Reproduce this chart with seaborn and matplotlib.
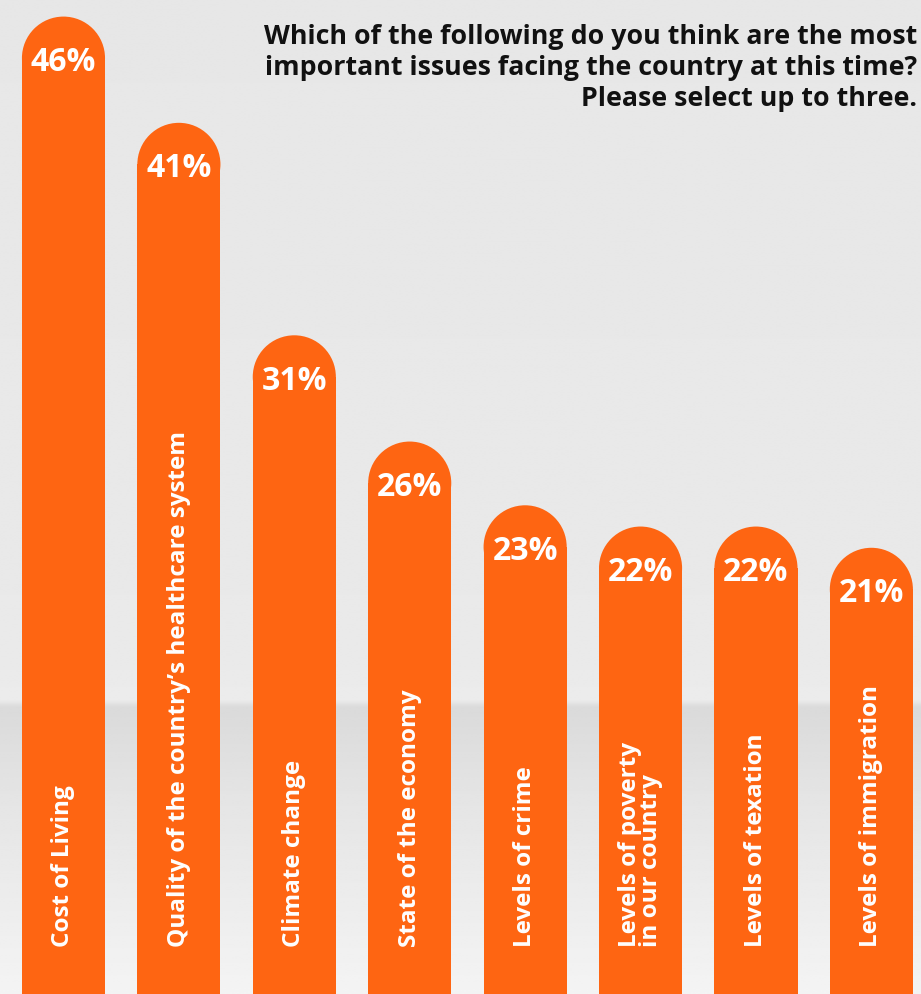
import numpy as np
import pandas as pd
import matplotlib
matplotlib.use("Agg")
import matplotlib.pyplot as plt
from matplotlib.patches import Rectangle, Ellipse
import seaborn as sns

# Survey results: share of respondents choosing each issue
issues = [
    "Cost of Living",
    "Quality of the country\u2019s healthcare system",
    "Climate change",
    "State of the economy",
    "Levels of crime",
    "Levels of poverty\nin our country",
    "Levels of texation",
    "Levels of immigration",
]
shares = [46, 41, 31, 26, 23, 22, 22, 21]
value_labels = [f"{v}%" for v in shares]

title_text = ("Which of the following do you think are the most\n"
              "important issues facing the country at this time?\n"
              "Please select up to three.")

df = pd.DataFrame({"issue": issues, "share": shares})

sns.set_theme(style="white")
plt.rcParams["font.family"] = ["Open Sans", "DejaVu Sans"]

ORANGE = "#fe6512"
W, H = 921, 994
fig = plt.figure(figsize=(W / 100, H / 100), dpi=100)

# soft grey backdrop with a faint horizon band
bg = fig.add_axes([0, 0, 1, 1], zorder=0)
ys = np.linspace(0, 1, 400)
stops_y = [0.0, 0.66, 0.705, 0.712, 0.80, 1.0]
stops_v = [0.905, 0.915, 0.925, 0.855, 0.895, 0.955]
col = np.interp(ys, stops_y, stops_v)
img = np.repeat(col[:, None], 2, axis=1)
bg.imshow(img, cmap="gray", vmin=0, vmax=1, aspect="auto",
          extent=[0, 1, 1, 0], interpolation="bilinear")
bg.set_axis_off()

ax = fig.add_axes([0, 0, 1, 1], zorder=1)
ax.patch.set_alpha(0)
sns.barplot(data=df, x="issue", y="share", color=ORANGE, width=0.72,
            saturation=1, ax=ax)
ax.set_xlim(-0.55, 7.43)
ax.set_ylim(0, 46.78)
ax.set_axis_off()

# turn each plain bar into a pill with a semicircular top
fig.canvas.draw()
px_x = ax.transData.transform((1, 0))[0] - ax.transData.transform((0, 0))[0]
px_y = ax.transData.transform((0, 1))[1] - ax.transData.transform((0, 0))[1]
aspect = px_x / px_y
for p in list(ax.patches):
    x0, w, h = p.get_x(), p.get_width(), p.get_height()
    p.remove()
    ry = (w / 2) * aspect
    ax.add_patch(Rectangle((x0, -5), w, h + 5 - ry, facecolor=ORANGE,
                           edgecolor="none", zorder=2))
    ax.add_patch(Ellipse((x0 + w / 2, h - ry), w, 2 * ry, facecolor=ORANGE,
                         edgecolor="none", zorder=2))

for i, (v, lab, name) in enumerate(zip(shares, value_labels, issues)):
    ax.annotate(lab, (i, v), xytext=(0, -33), textcoords="offset points",
                ha="center", va="center", color="white", fontsize=23,
                fontweight="bold", zorder=3)
    ax.annotate(name, (i, 0), xytext=(0, 34), textcoords="offset points",
                rotation=90, rotation_mode="anchor", ha="left", va="center",
                multialignment="left", linespacing=0.85,
                color="white", fontsize=17.5, fontweight="bold", zorder=3)

fig.text(0.996, 1 - 24 / H, title_text, ha="right", va="top",
         multialignment="right", fontsize=19.3, fontweight="bold",
         color="#111111", linespacing=1.25, zorder=4)

fig.savefig("out.png", dpi=100)
